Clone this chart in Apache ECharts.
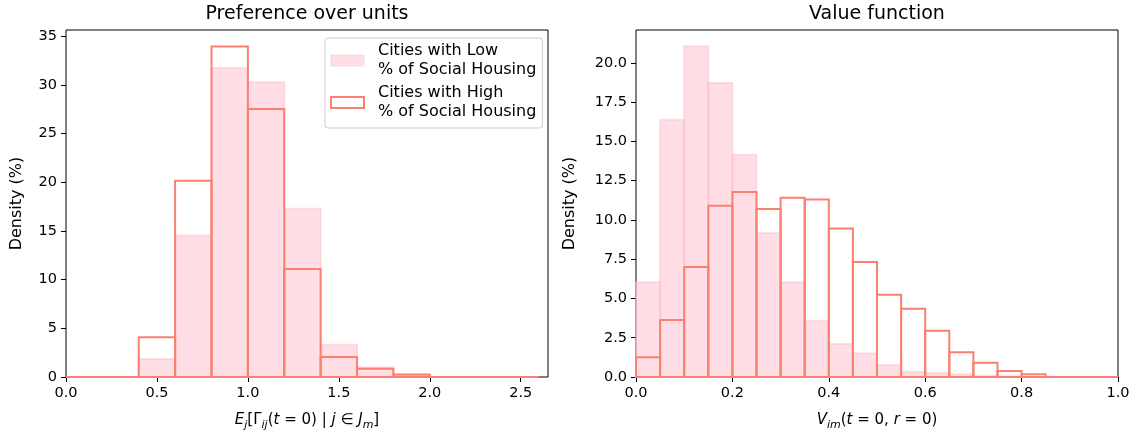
<!DOCTYPE html>
<html>
<head>
<meta charset="utf-8">
<script src="https://cdn.jsdelivr.net/npm/echarts@6/dist/echarts.min.js"></script>
<style>
  html, body { margin: 0; padding: 0; background: #fff; }
  #chart { width: 1138px; height: 437px; }
</style>
</head>
<body>
<div id="chart"></div>
<script>
// Histogram of preference over units (bin edges and densities in %)
const unitEdges = [0.0, 0.2, 0.4, 0.6, 0.8, 1.0, 1.2, 1.4, 1.6, 1.8, 2.0, 2.2, 2.4, 2.6];
const unitLow   = [0, 0, 1.85, 14.55, 31.75, 30.3, 17.3, 3.32, 1.0, 0.2, 0, 0, 0];
const unitHigh  = [0, 0, 4.08, 20.17, 33.97, 27.53, 11.1, 2.05, 0.85, 0.25, 0, 0, 0];

// Histogram of the value function
const valueEdges = [0.0, 0.05, 0.1, 0.15, 0.2, 0.25, 0.3, 0.35, 0.4, 0.45, 0.5,
                    0.55, 0.6, 0.65, 0.7, 0.75, 0.8, 0.85, 0.9, 0.95, 1.0];
const valueLow  = [6.03, 16.39, 21.06, 18.73, 14.16, 9.17, 6.03, 3.58, 2.1, 1.5,
                   0.76, 0.34, 0.25, 0.16, 0.08, 0.04, 0, 0, 0, 0];
const valueHigh = [1.26, 3.63, 7.0, 10.91, 11.78, 10.7, 11.42, 11.3, 9.45, 7.32,
                   5.24, 4.35, 2.95, 1.58, 0.91, 0.39, 0.17, 0, 0, 0];

// Tick labels
const unitXTicks  = [0.0, 0.5, 1.0, 1.5, 2.0, 2.5];
const unitYTicks  = [0, 5, 10, 15, 20, 25, 30, 35];
const valueXTicks = [0.0, 0.2, 0.4, 0.6, 0.8, 1.0];
const valueYTicks = [0, 2.5, 5, 7.5, 10, 12.5, 15, 17.5, 20];

const LOW_NAME  = 'Cities with Low\n% of Social Housing';
const HIGH_NAME = 'Cities with High\n% of Social Housing';

const FONT = 'DejaVu Sans';
const PINK = 'rgba(255,192,203,0.5)';
const SALMON = '#FA8072';

function binData(edges, vals) {
  return vals.map((v, i) => [edges[i], edges[i + 1], v]);
}

function histRender(style) {
  return function (params, api) {
    const lo = api.coord([api.value(0), 0]);
    const hi = api.coord([api.value(1), api.value(2)]);
    return {
      type: 'rect',
      shape: { x: lo[0], y: hi[1], width: hi[0] - lo[0], height: lo[1] - hi[1] },
      style: style
    };
  };
}

function valueAxisCommon(ticks, fmt) {
  return {
    type: 'value',
    axisLine: { show: false },
    splitLine: { show: false },
    axisTick: { show: true, length: 5, customValues: ticks, lineStyle: { color: '#000', width: 1 } },
    axisLabel: { customValues: ticks, formatter: fmt, color: '#000', fontSize: 14.5, fontFamily: FONT, margin: 9 }
  };
}

const mathRich = {
  n: { fontSize: 15, fontFamily: FONT, color: '#000', lineHeight: 21, verticalAlign: 'bottom' },
  i: { fontSize: 15, fontFamily: FONT, fontStyle: 'italic', color: '#000', lineHeight: 21, verticalAlign: 'bottom' },
  s: { fontSize: 11, fontFamily: FONT, fontStyle: 'italic', color: '#000', lineHeight: 15, verticalAlign: 'bottom', padding: [0, 0, -3, 0] }
};

const chart = echarts.init(document.getElementById('chart'), null, { renderer: 'canvas' });

chart.setOption({
  animation: false,
  backgroundColor: '#fff',
  title: [
    { text: 'Preference over units', left: 307, top: 5, textAlign: 'center', padding: 0,
      textStyle: { fontSize: 19, fontWeight: 'normal', color: '#000', fontFamily: FONT } },
    { text: 'Value function', left: 877, top: 5, textAlign: 'center', padding: 0,
      textStyle: { fontSize: 19, fontWeight: 'normal', color: '#000', fontFamily: FONT } }
  ],
  legend: {
    orient: 'vertical',
    left: 325, top: 38,
    padding: [4, 6, 7, 5],
    itemGap: 5,
    itemWidth: 33, itemHeight: 11,
    selectedMode: false,
    backgroundColor: 'rgba(255,255,255,0.8)',
    borderColor: '#cccccc', borderWidth: 1, borderRadius: 3,
    textStyle: { fontSize: 16, lineHeight: 18.5, color: '#000', fontFamily: FONT, padding: [0, 0, 0, 9] },
    data: [
      { name: LOW_NAME, icon: 'rect', itemStyle: { color: PINK, borderColor: PINK, borderWidth: 1 } },
      { name: HIGH_NAME, icon: 'rect', itemStyle: { color: '#fff', borderColor: SALMON, borderWidth: 2 } }
    ]
  },
  grid: [
    { left: 66, top: 30, width: 482, height: 347, show: true, borderColor: '#000', borderWidth: 1, backgroundColor: 'transparent' },
    { left: 636, top: 30, width: 482, height: 347, show: true, borderColor: '#000', borderWidth: 1, backgroundColor: 'transparent' }
  ],
  xAxis: [
    Object.assign(valueAxisCommon(unitXTicks, v => v.toFixed(1)), {
      gridIndex: 0, min: 0, max: 2.65,
      name: '{i|E}{s|j}{n|[Γ}{s|ij}{n|(}{i|t}{n| = 0) | }{i|j}{n| ∈ }{i|J}{s|m}{n|]}',
      nameLocation: 'middle', nameGap: 30,
      nameTextStyle: { rich: mathRich }
    }),
    Object.assign(valueAxisCommon(valueXTicks, v => v.toFixed(1)), {
      gridIndex: 1, min: 0, max: 1.0,
      name: '{i|V}{s|im}{n|(}{i|t}{n| = 0, }{i|r}{n| = 0)}',
      nameLocation: 'middle', nameGap: 30,
      nameTextStyle: { rich: mathRich }
    })
  ],
  yAxis: [
    Object.assign(valueAxisCommon(unitYTicks, v => String(v)), {
      gridIndex: 0, min: 0, max: 35.66,
      name: 'Density (%)', nameLocation: 'middle', nameGap: 41,
      nameTextStyle: { fontSize: 16, color: '#000', fontFamily: FONT }
    }),
    Object.assign(valueAxisCommon(valueYTicks, v => v.toFixed(1)), {
      gridIndex: 1, min: 0, max: 22.1,
      name: 'Density (%)', nameLocation: 'middle', nameGap: 58,
      nameTextStyle: { fontSize: 16, color: '#000', fontFamily: FONT }
    })
  ],
  series: [
    { type: 'custom', name: LOW_NAME, xAxisIndex: 0, yAxisIndex: 0,
      itemStyle: { color: PINK },
      encode: { x: [0, 1], y: 2 },
      renderItem: histRender({ fill: PINK, stroke: PINK, lineWidth: 2 }),
      data: binData(unitEdges, unitLow) },
    { type: 'custom', name: HIGH_NAME, xAxisIndex: 0, yAxisIndex: 0,
      itemStyle: { color: SALMON },
      encode: { x: [0, 1], y: 2 },
      renderItem: histRender({ fill: null, stroke: SALMON, lineWidth: 2 }),
      data: binData(unitEdges, unitHigh) },
    { type: 'custom', name: LOW_NAME, xAxisIndex: 1, yAxisIndex: 1,
      itemStyle: { color: PINK },
      encode: { x: [0, 1], y: 2 },
      renderItem: histRender({ fill: PINK, stroke: PINK, lineWidth: 2 }),
      data: binData(valueEdges, valueLow) },
    { type: 'custom', name: HIGH_NAME, xAxisIndex: 1, yAxisIndex: 1,
      itemStyle: { color: SALMON },
      encode: { x: [0, 1], y: 2 },
      renderItem: histRender({ fill: null, stroke: SALMON, lineWidth: 2 }),
      data: binData(valueEdges, valueHigh) }
  ]
});
</script>
</body>
</html>
